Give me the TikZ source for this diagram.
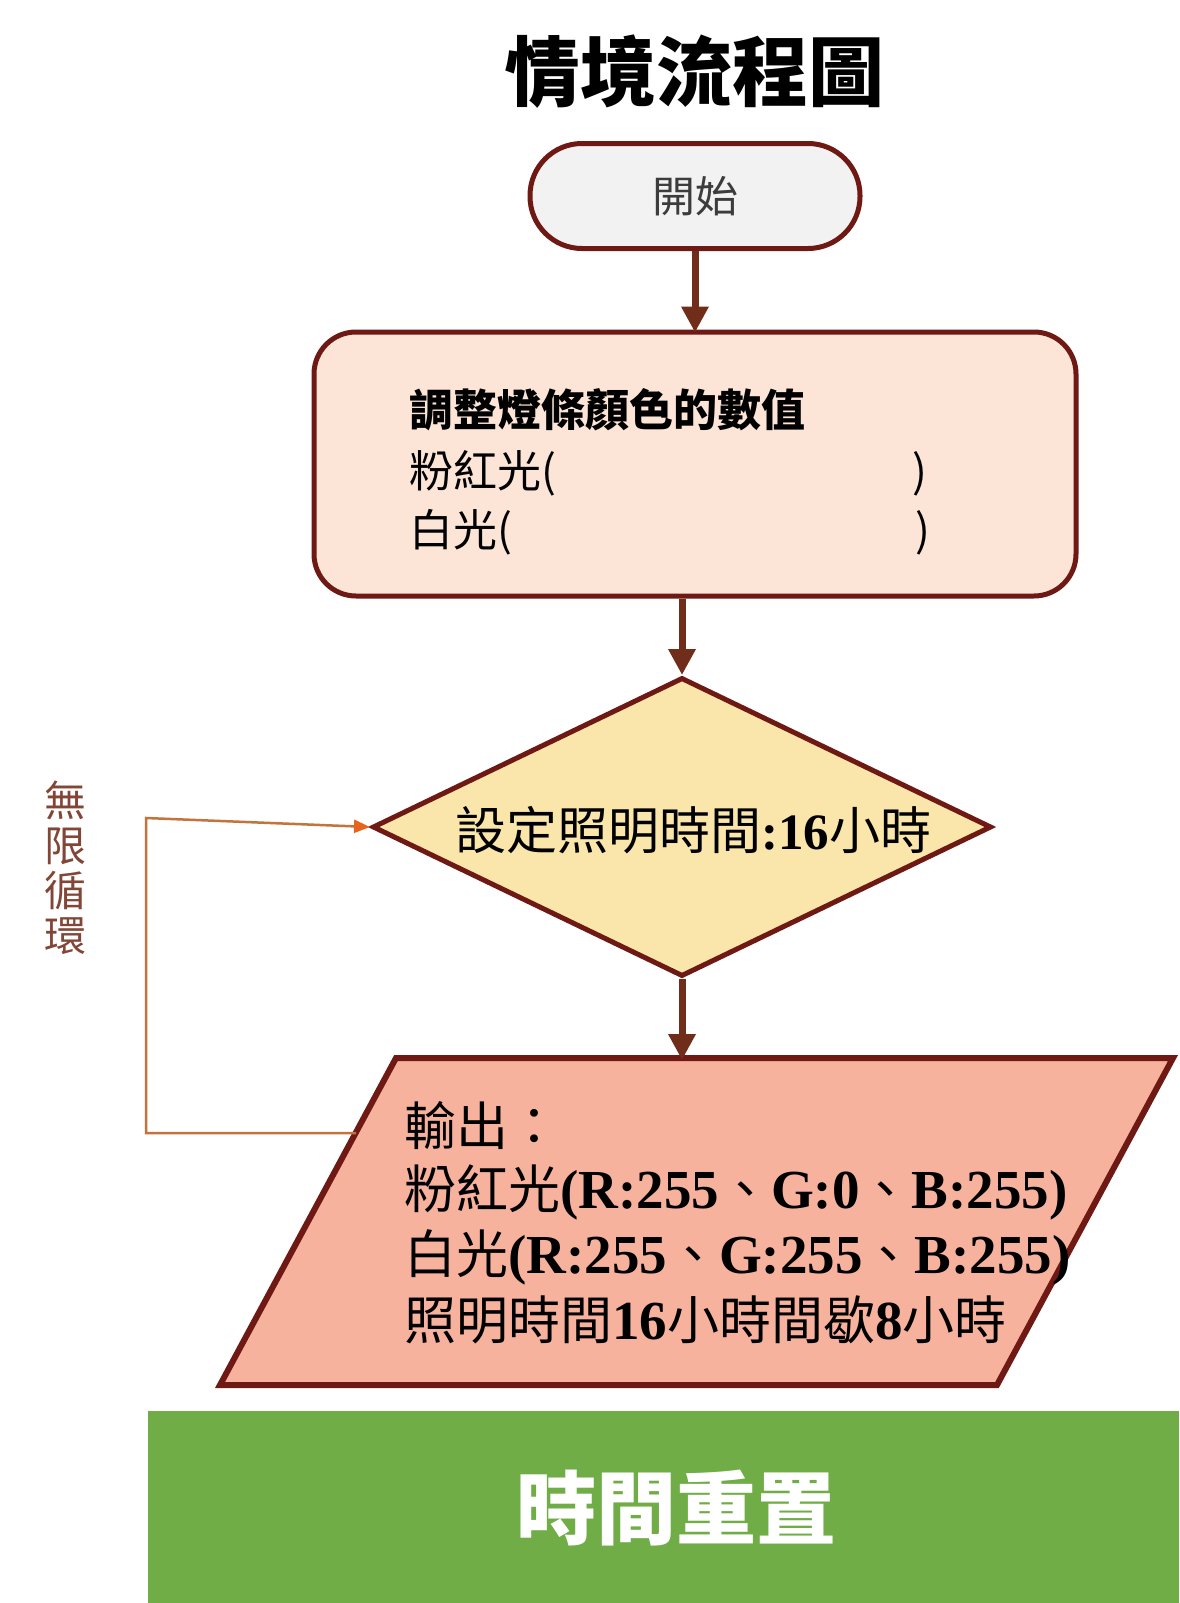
\documentclass[tikz,border=0pt]{standalone}
\usepackage{fontspec}
\setmainfont{Noto Sans CJK TC}
\newfontfamily\tnr{Liberation Serif}
\usetikzlibrary{shapes.geometric,arrows.meta}
\definecolor{brd}{RGB}{110,25,20}
\definecolor{arrc}{RGB}{112,45,25}
\definecolor{startfill}{RGB}{242,242,242}
\definecolor{adjfill}{RGB}{252,228,214}
\definecolor{diafill}{RGB}{250,230,170}
\definecolor{outfill}{RGB}{247,178,158}
\definecolor{loopc}{RGB}{195,115,60}
\definecolor{looptip}{RGB}{230,100,30}
\definecolor{loopt}{RGB}{130,70,55}
\definecolor{resetc}{RGB}{112,173,71}
\newcommand\latb[1]{{\tnr\bfseries #1}}
\newcommand\latc[1]{{\tnr\bfseries\fontsize{55}{58}\selectfont #1}}
\newcommand\fs[2]{\fontsize{#1}{#2}\selectfont}
\begin{document}
\begin{tikzpicture}[x=1pt,y=-1pt,
  box/.style={draw=brd,line width=5pt},
  arr/.style={draw=arrc,line width=7pt,-{Triangle[length=26pt,width=26pt]}},
  loopln/.style={draw=loopc,line width=2.5pt,-{Triangle[length=16pt,width=13pt,color=looptip]}},
  txt/.style={inner sep=0pt,anchor=base west,text=black}]
\useasboundingbox (0,0) rectangle (1179,1603);
\fill[white] (0,0) rectangle (1179,1603);
% title
\node[inner sep=0pt,font=\fs{76}{80}\bfseries] (title) at (694,72) {情境流程圖};
% start
\node[box,fill=startfill,rounded corners=52pt,minimum width=330pt,minimum height=105pt,
  font=\fs{43}{48},text={rgb,255:red,60;green,60;blue,60}] (start) at (695,196) {開始};
% adjust box
\node[box,fill=adjfill,rounded corners=42pt,minimum width=762pt,minimum height=264pt] (adj) at (695,464) {};
\node[txt,font=\fs{44}{50}\bfseries] (adj1) at (409,426) {調整燈條顏色的數值};
\node[txt,font=\fs{44}{50}] (adj2) at (409,487) {\makebox[503pt][l]{粉紅光(})};
\node[txt,font=\fs{44}{50}] (adj3) at (409,546) {\makebox[506pt][l]{白光(})};
% diamond
\node[box,shape=diamond,fill=diafill,minimum width=619pt,minimum height=299pt,inner sep=0pt] (dia) at (682,827) {};
\node[txt,font=\fs{51}{56}] (diat) at (455,849) {設定照明時間\latb{:16}小時};
% output parallelogram
\coordinate (ptl) at (396,1058);
\coordinate (ptr) at (1173,1058);
\coordinate (pbr) at (997,1385);
\coordinate (pbl) at (220,1385);
\coordinate (pL) at (356,1133);
\draw[draw=brd,line width=6pt,fill=outfill,line join=miter] (ptl) -- (ptr) -- (pbr) -- (pbl) -- cycle;
\node[txt,font=\fs{52}{58}] (out1) at (404,1145) {輸出：};
\node[txt,font=\fs{52}{58}] (out2) at (404,1208) {粉紅光\latc{(R:255}、\latc{G:0}、\latc{B:255)}};
\node[txt,font=\fs{52}{58}] (out3) at (404,1273) {白光\latc{(R:255}、\latc{G:255}、\latc{B:255)}};
\node[txt,font=\fs{52}{58}] (out4) at (404,1339) {照明時間\latc{16}小時間歇\latc{8}小時};
% arrows
\draw[arr] (start.south) -- ([yshift=-3pt]start.south |- adj.north);
\draw[arr] (dia.north |- adj.south) -- (dia.north);
\coordinate (ptop) at (dia.south |- ptl);
\draw[arr] (dia.south) -- ([yshift=-2pt]ptop);
% loop
\coordinate (lc) at (146,818);
\draw[loopln] (pL) -| (lc) -- (dia.west);
\node[inner sep=0pt,align=center,font=\fs{42}{45},text=loopt] (loopl) at (65,868) {無\\限\\循\\環};
% reset bar
\node[fill=resetc,inner sep=0pt,minimum width=1031pt,minimum height=192pt] (reset) at (663.5,1507) {};
\node[inner sep=0pt,font=\fs{80}{84}\bfseries,text=white] (resett) at (676,1508) {時間重置};
\end{tikzpicture}
\end{document}
